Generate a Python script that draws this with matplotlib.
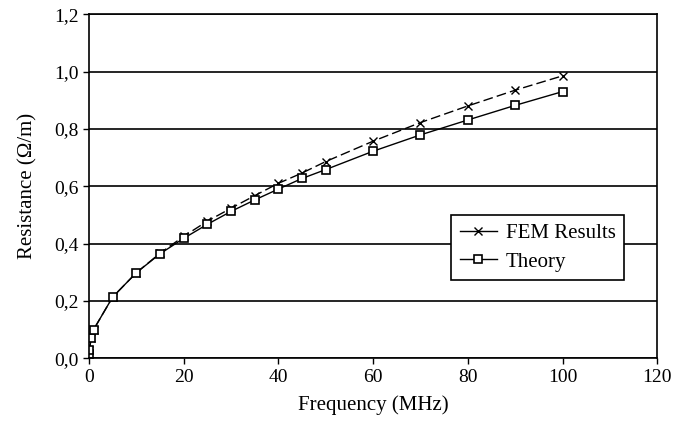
import matplotlib
matplotlib.use("Agg")
import matplotlib.pyplot as plt
from matplotlib.ticker import FuncFormatter

plt.rcParams["font.family"] = ["Liberation Serif", "DejaVu Serif"]

# frequency in MHz
freq = [0.01, 0.1, 0.5, 1, 5, 10, 15, 20, 25, 30, 35, 40, 45, 50, 60, 70, 80, 90, 100]
# resistance in Ohm/m
fem = [0.015, 0.03, 0.07, 0.10, 0.213, 0.298, 0.366, 0.425, 0.478, 0.523, 0.567,
       0.610, 0.646, 0.686, 0.757, 0.822, 0.880, 0.935, 0.985]
theory = [0.015, 0.03, 0.07, 0.10, 0.213, 0.298, 0.364, 0.418, 0.467, 0.512, 0.552,
          0.590, 0.627, 0.658, 0.722, 0.779, 0.831, 0.882, 0.930]

fig = plt.figure(figsize=(6.84, 4.30), dpi=100)
ax = fig.add_axes([0.130, 0.167, 0.831, 0.800])

ax.plot(freq, fem, color="black", lw=1.0, ls=(0, (7, 3)), marker="x",
        ms=5.5, mew=1.0, label="FEM Results")
ax.plot(freq, theory, color="black", lw=1.0, ls="-", marker="s",
        ms=5.5, mew=1.2, mfc="white", label="Theory")

ax.set_xlim(0, 120)
ax.set_ylim(0, 1.2)
ax.set_xticks(range(0, 121, 20))
ax.set_yticks([0.0, 0.2, 0.4, 0.6, 0.8, 1.0, 1.2])
ax.yaxis.set_major_formatter(FuncFormatter(lambda v, p: f"{v:.1f}".replace(".", ",")))
ax.grid(axis="y", color="black", lw=1.2)
ax.set_axisbelow(True)
for s in ax.spines.values():
    s.set_linewidth(1.2)
ax.tick_params(direction="out", length=4, width=1.0, labelsize=14, colors="black")

ax.set_xlabel("Frequency (MHz)", fontsize=15, labelpad=7)
ax.set_ylabel("Resistance (\u03a9/m)", fontsize=15, labelpad=12)

leg = ax.legend(loc="lower right", bbox_to_anchor=(0.941, 0.227), borderaxespad=0,
                fontsize=15, frameon=True, fancybox=False, edgecolor="black",
                framealpha=1, handlelength=1.8, handletextpad=0.4, borderpad=0.4,
                labelspacing=0.45)
leg.get_frame().set_linewidth(1.2)
leg.get_lines()[0].set_linestyle("-")

fig.savefig("out.png", dpi=100)
